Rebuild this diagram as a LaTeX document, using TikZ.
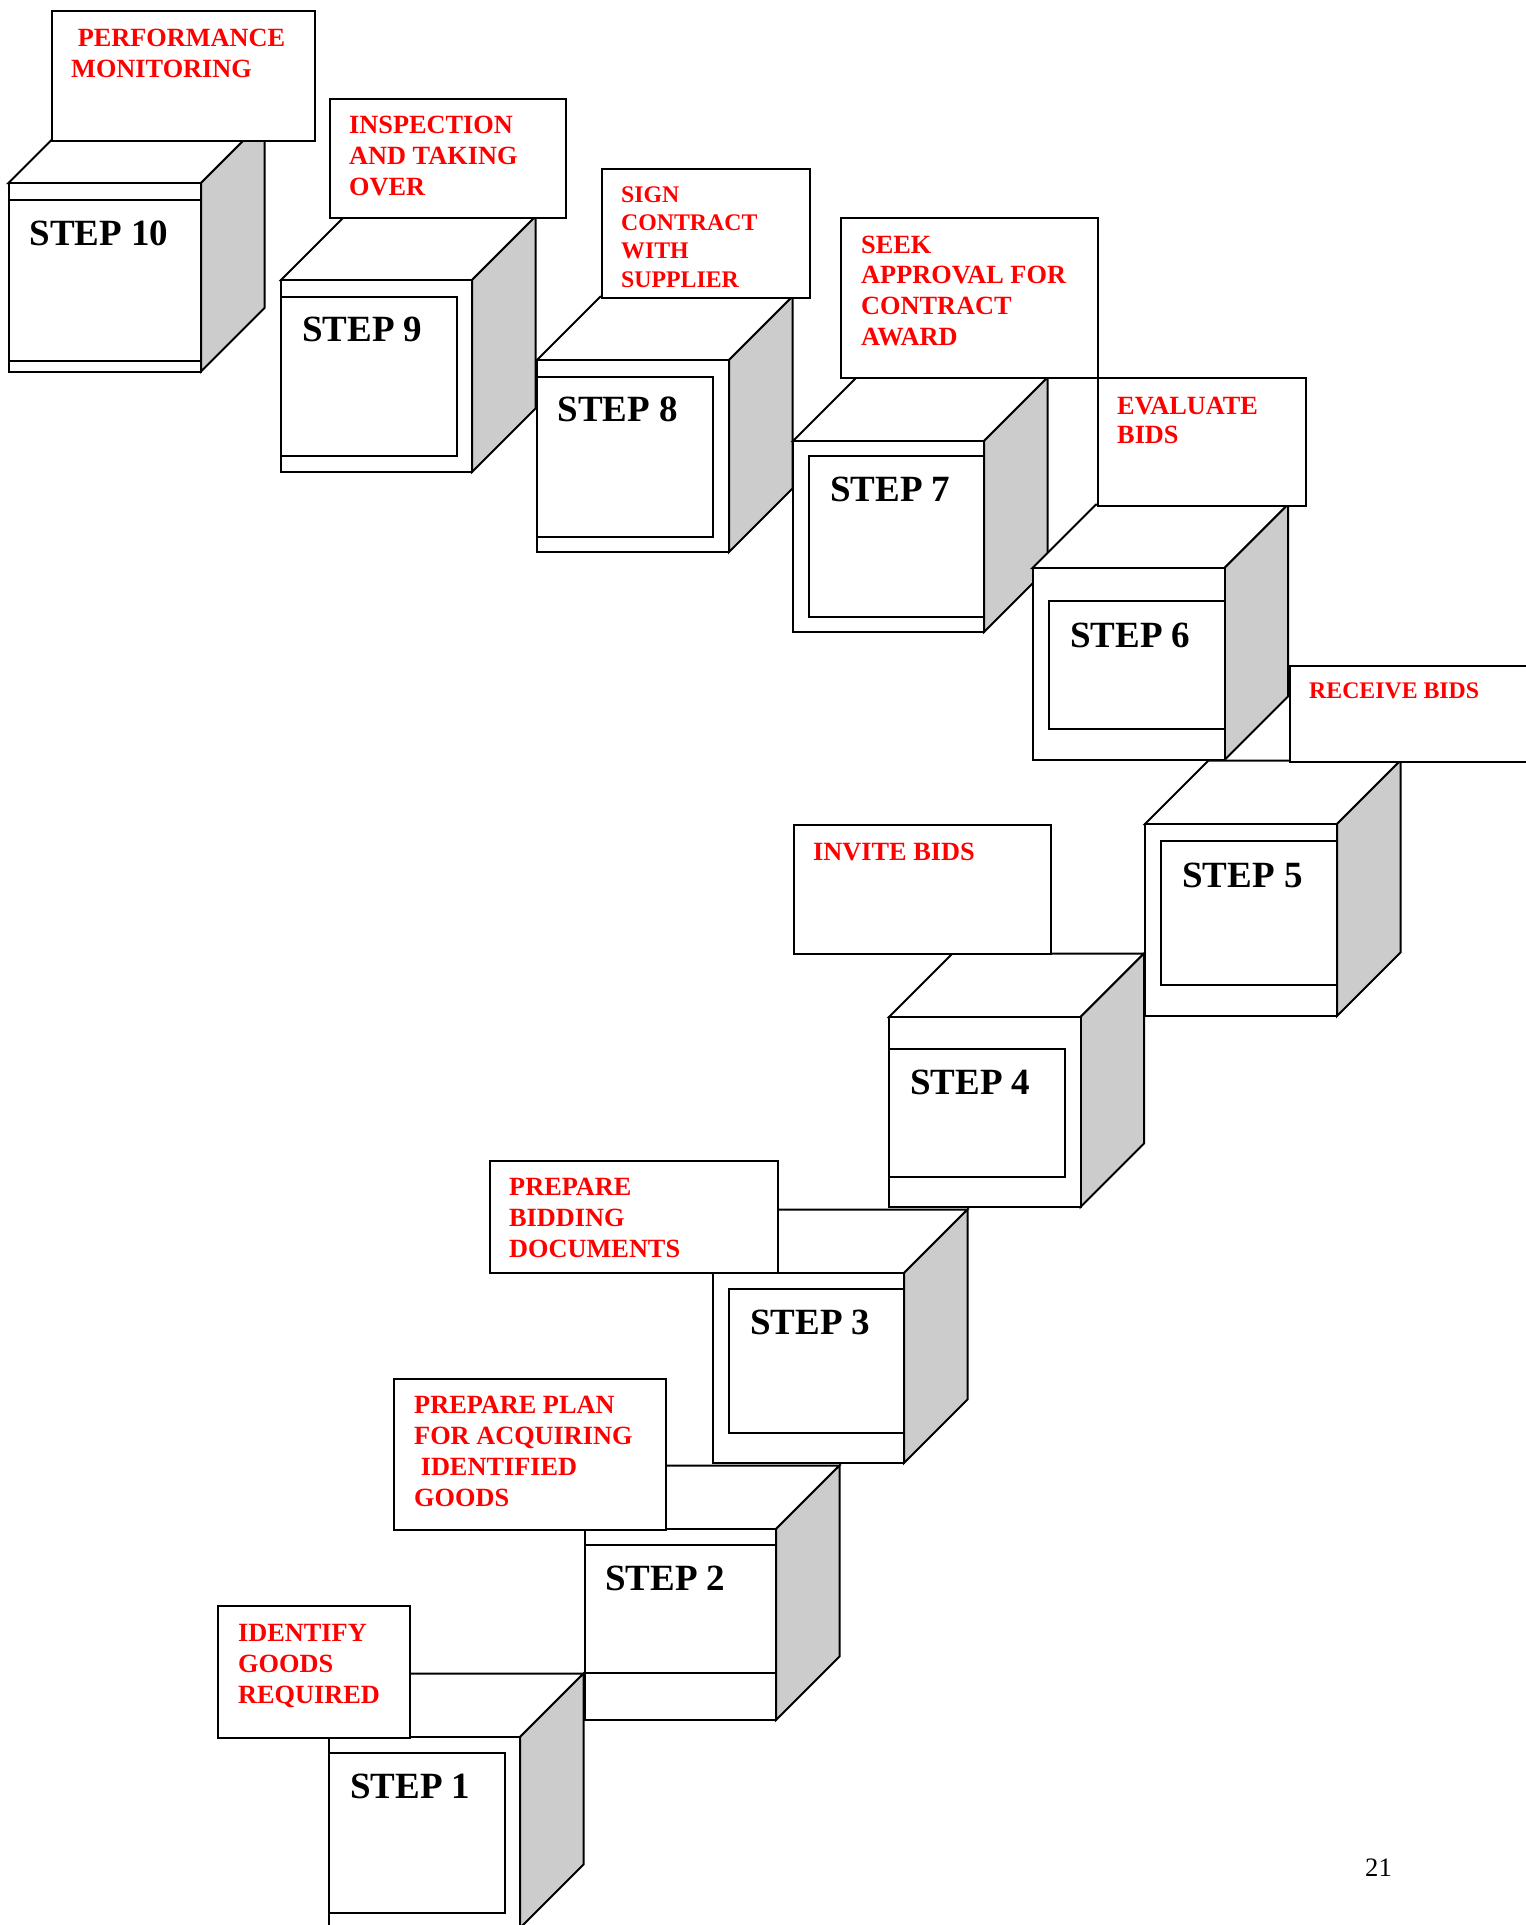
\documentclass[tikz,border=0pt]{standalone}
\usepackage{fontspec}
\setmainfont{Liberation Serif}
\definecolor{sidegrey}{gray}{0.8}
\definecolor{lblred}{RGB}{255,0,0}
\newcommand{\cdepth}{63.5}
% front top-left x, y, width, height
\newcommand{\stepcube}[4]{%
  \filldraw[cubeline, fill=white] (#1,#2) -- ++(\cdepth,-\cdepth) -- ++(#3,0) -- ++(-\cdepth,\cdepth) -- cycle;
  \filldraw[cubeline, fill=sidegrey] ({#1+#3},#2) -- ++(\cdepth,-\cdepth) -- ++(0,#4) -- ++(-\cdepth,\cdepth) -- cycle;
  \filldraw[cubeline, fill=white] (#1,#2) rectangle ++(#3,#4);
}
\tikzset{
  cubeline/.style={draw=black, line width=2pt, line join=miter},
  lblbox/.style={draw=black, line width=2pt, fill=white, rectangle, inner sep=0pt, anchor=north west},
  lbltext/.style={text=lblred, inner sep=0pt, anchor=base west, font=\fontsize{26.3}{31}\selectfont\bfseries},
  steptext/.style={text=black, inner sep=0pt, anchor=base west, font=\fontsize{37}{44}\selectfont\bfseries},
}
\begin{document}
\begin{tikzpicture}[x=1pt, y=-1pt]
\path[use as bounding box, clip] (0,0) rectangle (1526,1925);
\fill[white] (0,0) rectangle (1526,1925);

% ---------- cubes (back to front) ----------
\stepcube{8.5}{183}{192.5}{188.5}
\draw[cubeline] (8.5,200) -- (201,200) (8.5,361) -- (201,361);
\node[steptext] (s10) at (29.3,245.7) {STEP 10};

\stepcube{281}{280}{191}{192}
\draw[cubeline] (281,296.5) rectangle (457,456);
\node[steptext] (s9) at (302,341.7) {STEP 9};

\stepcube{537}{360}{192}{192}
\draw[cubeline] (537,377) rectangle (713,537);
\node[steptext] (s8) at (557.5,421.7) {STEP 8};

\stepcube{793}{441}{191}{191}
\draw[cubeline] (809,456) rectangle (984,617);
\node[steptext] (s7) at (830,501.7) {STEP 7};

\stepcube{1032.5}{568}{192}{192}
\draw[cubeline] (1049,600.5) rectangle (1224.5,729);
\node[steptext] (s6) at (1070,647) {STEP 6};

\stepcube{1145}{824}{192}{192}
\draw[cubeline] (1161,841) rectangle (1337,985);
\node[steptext] (s5) at (1182,887) {STEP 5};

\stepcube{889}{1017}{191.5}{190}
\draw[cubeline] (889,1049) rectangle (1065,1177);
\node[steptext] (s4) at (910,1094) {STEP 4};

\stepcube{713}{1273}{191}{190}
\draw[cubeline] (729,1289) rectangle (904,1433);
\node[steptext] (s3) at (750,1334) {STEP 3};

\stepcube{585}{1529}{191}{191}
\draw[cubeline] (585,1545) -- (776,1545) (585,1673) -- (776,1673);
\node[steptext] (s2) at (605,1590.7) {STEP 2};

\stepcube{329}{1737}{191}{191}
\draw[cubeline] (329,1753) rectangle (505,1913);
\node[steptext] (s1) at (350,1798) {STEP 1};

% ---------- label boxes ----------
\node[lblbox, minimum width=263.5pt, minimum height=129.5pt] (b10) at (50.5,10) {};
\node[lbltext] (t10) at (71,46) {\vtop{\hbox{\ PERFORMANCE}\hbox{MONITORING}}};

\node[lblbox, minimum width=235.5pt, minimum height=119pt] (b9) at (329,98) {};
\node[lbltext] (t9) at (349,133) {\vtop{\hbox{INSPECTION}\hbox{AND TAKING}\hbox{OVER}}};

\node[lblbox, minimum width=208pt, minimum height=129pt] (b8) at (601,168) {};
\node[lbltext, font=\fontsize{23.8}{28.4}\selectfont\bfseries] (t8) at (621,202) {\vtop{\hbox{SIGN}\hbox{CONTRACT}\hbox{WITH}\hbox{SUPPLIER}}};

\node[lblbox, minimum width=257pt, minimum height=160pt] (b7) at (840,217) {};
\node[lbltext, font=\fontsize{26.3}{30.7}\selectfont\bfseries] (t7) at (861,253) {\vtop{\hbox{SEEK}\hbox{APPROVAL FOR}\hbox{CONTRACT}\hbox{AWARD}}};

\node[lblbox, minimum width=208pt, minimum height=128pt] (b6) at (1097,377) {};
\node[lbltext, font=\fontsize{26.3}{29}\selectfont\bfseries] (t6) at (1117,414) {\vtop{\hbox{EVALUATE}\hbox{BIDS}}};

\node[lblbox, minimum width=271pt, minimum height=96pt] (b5) at (1289,664.5) {};
\node[lbltext, font=\fontsize{23.8}{28.4}\selectfont\bfseries] (t5) at (1309,698) {RECEIVE BIDS};

\node[lblbox, minimum width=256.5pt, minimum height=129pt] (b4) at (793,824) {};
\node[lbltext] (t4) at (813,860) {INVITE BIDS};

\node[lblbox, minimum width=288pt, minimum height=112pt] (b3) at (489,1160) {};
\node[lbltext] (t3) at (509,1195) {\vtop{\hbox{PREPARE}\hbox{BIDDING}\hbox{DOCUMENTS}}};

\node[lblbox, minimum width=272.5pt, minimum height=150.5pt] (b2) at (392.5,1378) {};
\node[lbltext, font=\fontsize{26.3}{31.3}\selectfont\bfseries] (t2) at (414,1413) {\vtop{\hbox{PREPARE PLAN}\hbox{FOR ACQUIRING}\hbox{\ IDENTIFIED}\hbox{GOODS}}};

\node[lblbox, minimum width=192pt, minimum height=131.5pt] (b1) at (217,1605) {};
\node[lbltext, font=\fontsize{26.3}{30.7}\selectfont\bfseries] (t1) at (238,1641.7) {\vtop{\hbox{IDENTIFY}\hbox{GOODS}\hbox{REQUIRED}}};

% page number
\node[inner sep=0pt, anchor=base west, font=\fontsize{26.6}{32}\selectfont] (pg) at (1365,1876) {21};
\end{tikzpicture}
\end{document}
